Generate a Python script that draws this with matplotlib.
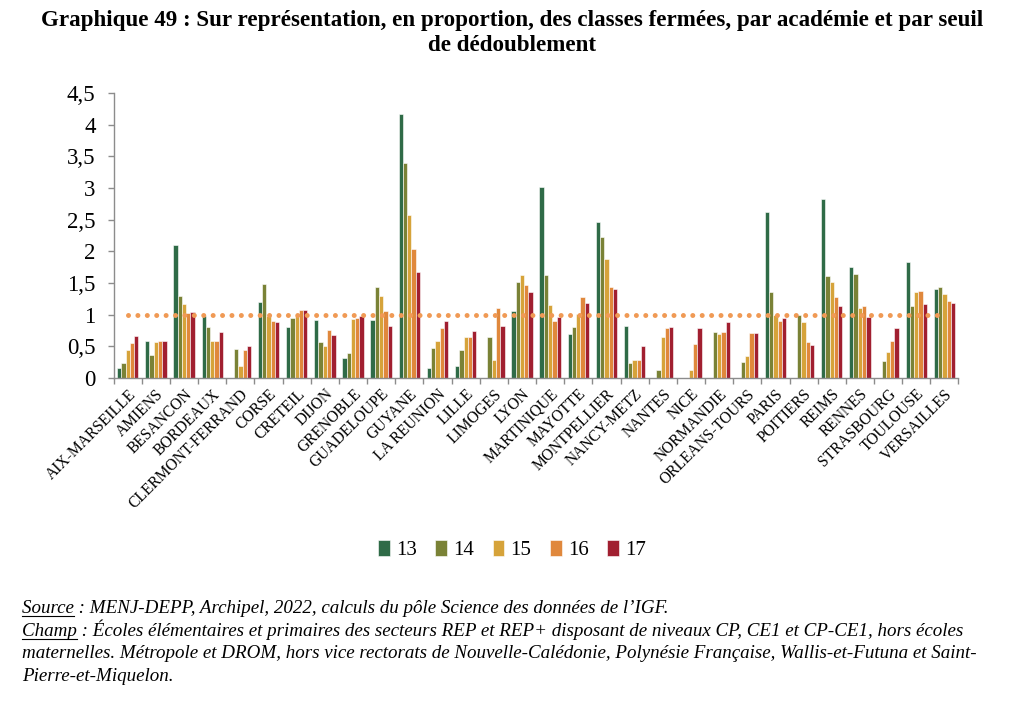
import matplotlib
matplotlib.use('Agg')
import matplotlib.pyplot as plt
import numpy as np
from matplotlib.lines import Line2D

academies = ['AIX-MARSEILLE', 'AMIENS', 'BESANCON', 'BORDEAUX', 'CLERMONT-FERRAND',
             'CORSE', 'CRETEIL', 'DIJON', 'GRENOBLE', 'GUADELOUPE', 'GUYANE',
             'LA REUNION', 'LILLE', 'LIMOGES', 'LYON', 'MARTINIQUE', 'MAYOTTE',
             'MONTPELLIER', 'NANCY-METZ', 'NANTES', 'NICE', 'NORMANDIE',
             'ORLEANS-TOURS', 'PARIS', 'POITIERS', 'REIMS', 'RENNES', 'STRASBOURG',
             'TOULOUSE', 'VERSAILLES']

s13 = [0.15, 0.58, 2.10, 0.97, 0.00, 1.20, 0.81, 0.91, 0.32, 0.92, 4.17, 0.16, 0.19, 0.00, 1.06,
       3.02, 0.69, 2.47, 0.82, 0.00, 0.00, 0.00, 0.00, 2.63, 0.00, 2.82, 1.76, 0.00, 1.83, 1.40]
s14 = [0.24, 0.36, 1.30, 0.80, 0.45, 1.49, 0.95, 0.56, 0.40, 1.44, 3.39, 0.47, 0.44, 0.64, 1.52,
       1.63, 0.81, 2.22, 0.24, 0.12, 0.00, 0.73, 0.25, 1.36, 0.99, 1.61, 1.64, 0.26, 1.13, 1.43]
s15 = [0.44, 0.57, 1.17, 0.59, 0.19, 0.97, 1.00, 0.51, 0.93, 1.29, 2.57, 0.59, 0.65, 0.28, 1.62,
       1.15, 1.01, 1.88, 0.28, 0.64, 0.13, 0.69, 0.34, 0.99, 0.88, 1.51, 1.10, 0.41, 1.36, 1.32]
s16 = [0.55, 0.59, 1.03, 0.59, 0.44, 0.90, 1.07, 0.76, 0.95, 1.05, 2.04, 0.79, 0.64, 1.10, 1.47,
       0.90, 1.28, 1.43, 0.28, 0.79, 0.53, 0.73, 0.71, 0.90, 0.56, 1.28, 1.13, 0.58, 1.38, 1.22]
s17 = [0.66, 0.59, 1.04, 0.72, 0.50, 0.88, 1.07, 0.68, 0.97, 0.82, 1.68, 0.90, 0.74, 0.82, 1.35,
       0.96, 1.18, 1.40, 0.51, 0.81, 0.79, 0.89, 0.71, 0.95, 0.52, 1.14, 0.96, 0.79, 1.17, 1.18]

seuils = ['13', '14', '15', '16', '17']
series = [s13, s14, s15, s16, s17]
colors = ['#2F6B47', '#7A8236', '#D6A33A', '#E0883C', '#A11F30']
ref_level = 1.0

serif = 'Liberation Serif'

fig = plt.figure(figsize=(10.24, 7.01), dpi=100)
ax = fig.add_axes([0.111, 0.461, 0.825, 0.406])

x = np.arange(len(academies))
w = 0.152
for i, (vals, lab, c) in enumerate(zip(series, seuils, colors)):
    ax.bar(x + (i - 2) * w, vals, w, color=c, edgecolor='white', linewidth=0.4, label=lab)

# dotted reference line at 1
ax.plot([x[0], x[-1]], [ref_level, ref_level], color='#F09A55', lw=3.6,
        linestyle=(0, (0.001, 1.88)), dash_capstyle='round', zorder=3)

ax.set_xlim(-0.5, len(academies) - 0.5)
ax.set_ylim(0, 4.5)
yt = np.arange(0, 4.51, 0.5)
ax.set_yticks(yt)
ax.set_yticklabels([('%g' % v).replace('.', ',') for v in yt], fontfamily=serif, fontsize=16.5)

ax.set_xticks(x)
ax.set_xticklabels(academies, rotation=45, ha='right', rotation_mode='anchor',
                   fontfamily=serif, fontsize=11.2)
ax.set_xticks(np.arange(-0.5, len(academies), 1), minor=True)
ax.tick_params(axis='x', which='major', length=0, pad=6)
ax.tick_params(axis='x', which='minor', length=4, color='#8C8C8C', width=1)
ax.tick_params(axis='y', length=4, color='#8C8C8C', width=1, pad=9)

for s in ['top', 'right']:
    ax.spines[s].set_visible(False)
for s in ['left', 'bottom']:
    ax.spines[s].set_color('#8C8C8C')
    ax.spines[s].set_linewidth(1)

fig.legend(loc='center', bbox_to_anchor=(0.5, 0.215), ncol=5, frameon=False,
           prop={'family': serif, 'size': 15}, handlelength=0.55, handleheight=0.75,
           handletextpad=0.3, columnspacing=0.9)

fig.text(0.5, 0.971, "Graphique 49 : Sur représentation, en proportion, des classes fermées, par académie et par seuil",
         ha='center', va='center', fontfamily=serif, fontweight='bold', fontsize=16.6)
fig.text(0.5, 0.935, "de dédoublement",
         ha='center', va='center', fontfamily=serif, fontweight='bold', fontsize=16.6)

notes = [
    ("Source", " : MENJ-DEPP, Archipel, 2022, calculs du pôle Science des données de l’IGF."),
    ("Champ", " : Écoles élémentaires et primaires des secteurs REP et REP+ disposant de niveaux CP, CE1 et CP-CE1, hors écoles"),
    ("", "maternelles. Métropole et DROM, hors vice rectorats de Nouvelle-Calédonie, Polynésie Française, Wallis-et-Futuna et Saint-"),
    ("", "Pierre-et-Miquelon."),
]
ys = [0.126, 0.093, 0.061, 0.029]
fs_note = 13.7
fig.canvas.draw()
renderer = fig.canvas.get_renderer()
for (u, rest), yy in zip(notes, ys):
    t = fig.text(0.0215, yy, u + rest, ha='left', va='baseline', fontfamily=serif,
                 fontstyle='italic', fontsize=fs_note)
    if u:
        tmp = fig.text(0.0215, yy, u, ha='left', va='baseline', fontfamily=serif,
                       fontstyle='italic', fontsize=fs_note)
        bb = tmp.get_window_extent(renderer)
        tmp.remove()
        W, H = fig.bbox.width, fig.bbox.height
        fig.lines.append(Line2D([bb.x0 / W, bb.x1 / W], [yy - 3.5 / H, yy - 3.5 / H],
                                transform=fig.transFigure, color='black', lw=0.8))

fig.savefig('out.png', dpi=100)
